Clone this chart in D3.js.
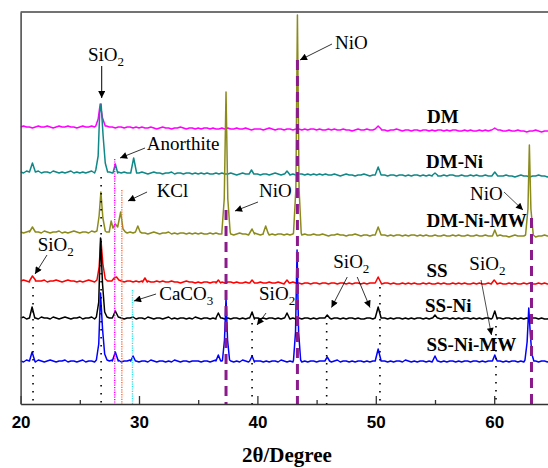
<!DOCTYPE html>
<html><head><meta charset="utf-8">
<script src="https://cdn.jsdelivr.net/npm/d3@7"></script>
<style>body{margin:0;background:#fff}svg{display:block}</style>
</head><body><div id="chart"></div>
<script>
// ---------- DATA ----------
const seriesNames = ["DM", "DM-Ni", "DM-Ni-MW", "SS", "SS-Ni", "SS-Ni-MW"];
const baseLevels = [273, 228, 168, 120, 83, 40];   // stacking offset (intensity units)
const gridStart = 20, gridStep = 0.25;           // 2θ sampling of background traces

const noiseDM = [
4,5,4,4,3,4,5,4,4,5,4,3,4,5,4,4,5,4,4,3,
4,5,4,4,5,4,3,4,4,5,4,4,3,4,4,3,4,4,3,4,
3,4,3,3,4,3,2,3,4,3,3,2,3,3,4,3,2,3,3,2,
3,2,3,3,2,3,2,2,3,2,3,2,2,3,2,2,3,2,1,2,
2,2,1,2,3,2,1,2,2,1,2,2,1,2,2,1,2,1,2,2,
1,2,1,1,2,1,2,1,1,2,1,1,0,1,2,1,1,2,1,1,
1,2,1,1,0,1,1,2,1,0,1,1,0,1,1,0,1,1,0,1,
0,1,1,0,1,0,1,1,0,0,1,0,1,0,0,1,0,1,0,1,
1,0,1,0,0,1,0,0,1,0,0,-1,0,0,1,0,-1,0,0,0,
0];
const noiseDMNi = [
4,3,5,4,3,4,5,3,4,4,3,5,4,3,4,3,4,5,3,4,
3,4,3,4,5,3,4,3,4,3,4,3,3,4,3,4,3,3,4,3,
3,4,3,2,3,4,3,3,2,3,3,4,2,3,3,2,3,3,2,3,
2,3,2,3,2,2,3,2,3,2,2,3,2,1,2,3,2,2,1,2,
2,1,2,2,1,2,3,2,1,2,2,1,2,1,2,2,1,2,1,2,
1,2,1,2,1,1,2,1,0,1,2,1,1,0,1,1,2,1,0,1,
1,0,1,1,0,1,1,0,1,1,0,1,0,1,1,0,1,0,1,0,
1,0,0,1,0,1,1,0,0,1,0,0,1,0,1,0,0,1,0,0,
0,1,0,0,1,0,0,-1,0,1,0,0,-1,0,0,1,0,0,-1,0,
0];
const noiseDMNiMW = [
4,3,4,5,3,4,4,3,5,4,3,4,4,5,3,4,3,4,5,4,
3,4,4,3,5,4,3,4,3,4,4,3,4,3,5,4,3,4,3,3,
4,3,3,2,3,4,3,2,3,3,4,2,3,2,3,3,2,3,2,3,
2,3,2,2,3,2,3,2,2,3,2,2,1,2,3,2,2,1,2,2,
2,1,2,2,1,2,1,2,2,1,2,1,2,2,1,1,2,1,1,2,
1,1,2,1,0,1,1,2,1,1,0,1,1,2,1,0,1,1,0,1,
1,0,1,1,0,1,0,1,1,0,1,0,1,1,0,1,0,1,0,0,
1,0,0,1,0,0,1,0,1,0,0,1,0,0,1,0,0,1,0,0,
0,0,1,0,0,-1,0,1,0,0,0,1,0,0,-1,0,0,1,0,0,
0];
const noiseSS = [
3,4,3,2,3,4,3,3,4,2,3,3,4,3,2,3,4,3,3,2,
3,2,3,4,3,2,3,3,2,3,3,4,3,2,3,2,3,3,2,3,
2,3,2,3,2,2,3,2,3,2,2,3,2,2,1,2,3,2,2,1,
2,1,2,2,1,2,2,1,2,1,2,2,1,2,1,1,2,1,2,1,
1,2,1,1,2,1,1,2,1,0,1,1,2,1,1,0,1,1,0,1,
1,0,1,1,0,1,1,0,1,1,0,1,0,1,1,0,1,0,1,1,
0,1,0,1,1,0,1,0,0,1,0,1,0,1,0,0,1,0,1,0,
0,1,0,1,0,0,1,0,1,0,1,0,0,1,0,1,0,0,1,0,
1,0,1,0,0,1,0,1,0,0,1,0,1,0,0,1,0,1,0,0,
1];
const noiseSSNi = [
3,4,2,3,4,3,2,4,3,3,2,4,3,2,3,4,3,2,3,3,
4,2,3,3,4,2,3,4,3,2,3,3,2,4,3,2,3,3,4,2,
3,3,2,4,3,2,3,3,2,3,4,2,3,2,3,3,2,3,2,4,
3,2,3,3,2,3,2,4,3,2,3,2,3,3,2,3,2,3,3,2,
3,2,3,2,3,3,2,3,2,3,3,2,3,2,3,2,3,3,2,3,
2,3,3,2,3,2,3,3,2,3,2,3,3,2,3,2,2,3,3,2,
3,2,3,3,2,3,2,3,3,2,3,2,3,2,3,3,2,3,2,3,
2,3,2,3,3,2,3,2,3,2,3,3,2,3,2,3,2,3,3,2,
3,2,3,2,3,3,2,3,2,3,2,3,2,3,3,2,3,2,2,3,
2];
const noiseSSNiMW = [
3,2,4,3,3,2,4,3,2,3,4,3,2,3,3,4,2,3,3,2,
3,4,2,3,3,2,4,3,3,2,3,4,2,3,2,3,3,4,2,3,
2,3,3,2,4,3,2,3,3,2,3,2,4,3,2,3,3,2,3,3,
3,2,3,3,2,3,4,2,3,2,3,3,2,3,2,4,3,2,3,2,
3,3,2,3,2,3,3,2,4,3,2,3,2,3,3,2,3,2,3,3,
2,3,3,2,3,2,3,4,2,3,3,2,3,2,3,3,2,3,2,3,
3,2,3,3,2,3,2,3,3,2,4,3,2,3,2,3,3,2,3,2,
3,3,2,3,2,3,3,2,3,2,3,3,2,3,3,2,3,2,3,3,
2,3,3,2,3,2,3,3,2,3,2,3,3,2,3,2,3,3,2,3,
3];

// diffraction peaks: [2θ, absolute intensity]
const peaksDM = [
 [[26.35,278],[26.55,285],[26.72,300],[26.92,286],[27.15,278]],
 [[49.95,275],[50.2,278],[50.45,275]],
 [[59.8,274],[60.05,276],[60.3,274]]
];
const peaksDMNi = [
 [[20.75,232],[21.0,241],[21.25,232]],
 [[26.35,234],[26.55,248],[26.68,292],[26.8,300],[26.97,268],[27.15,241],[27.35,232]],
 [[27.8,231],[28.0,240],[28.2,231]],
 [[29.3,231],[29.55,246],[29.8,231]],
 [[39.3,230],[39.5,234],[39.7,230]],
 [[42.3,230],[42.5,233],[42.7,230]],
 [[49.95,229],[50.2,237],[50.45,229]],
 [[54.8,229],[55.0,231],[55.2,229]],
 [[59.8,228],[60.05,232],[60.3,228]]
];
const peaksDMNiMW = [
 [[20.75,172],[21.0,177],[21.25,172]],
 [[26.45,173],[26.63,188],[26.78,212],[26.95,186],[27.15,173]],
 [[27.5,173],[27.65,183],[27.8,176],[28.0,180],[28.2,177],[28.45,192],[28.65,175],[28.85,172]],
 [[29.7,172],[29.9,178],[30.1,172]],
 [[37.0,172],[37.2,205],[37.35,312],[37.5,205],[37.7,172]],
 [[39.35,171],[39.55,175],[39.75,171]],
 [[40.5,171],[40.7,178],[40.9,171]],
 [[43.05,171],[43.25,215],[43.38,389],[43.52,215],[43.7,171]],
 [[49.95,169],[50.2,177],[50.45,169]],
 [[59.85,168],[60.05,174],[60.25,168]],
 [[62.65,169],[62.85,195],[62.97,259],[63.1,195],[63.3,169]]
];
const peaksSS = [
 [[20.75,123],[21.0,128],[21.25,123]],
 [[26.45,124],[26.63,137],[26.78,165],[26.95,140],[27.15,125],[27.35,123]],
 [[27.7,123],[27.9,126],[28.1,127],[28.3,124]],
 [[30.3,122],[30.5,126],[30.7,122]],
 [[36.5,121],[36.7,124],[36.9,121]],
 [[39.35,121],[39.55,124],[39.75,121]],
 [[42.3,121],[42.5,124],[42.7,121]],
 [[49.95,121],[50.2,127],[50.45,121]],
 [[59.8,121],[60.0,124],[60.2,121]]
];
const peaksSSNi = [
 [[20.75,86],[20.97,97],[21.2,86]],
 [[26.4,87],[26.6,102],[26.75,166],[26.92,120],[27.1,92],[27.3,87]],
 [[27.75,86],[28.0,93],[28.25,87]],
 [[36.5,86],[36.7,91],[36.9,86]],
 [[39.35,86],[39.55,92],[39.75,86]],
 [[42.3,86],[42.5,91],[42.7,86]],
 [[45.7,86],[45.9,89],[46.1,86]],
 [[49.95,86],[50.2,97],[50.45,86]],
 [[54.8,86],[55.0,89],[55.2,86]],
 [[59.85,86],[60.05,93],[60.25,86]]
];
const peaksSSNiMW = [
 [[20.75,43],[20.97,52],[21.2,43]],
 [[26.4,44],[26.6,60],[26.75,111],[26.92,75],[27.1,50],[27.3,44]],
 [[27.75,43],[28.0,52],[28.25,44]],
 [[29.3,43],[29.5,48],[29.7,43]],
 [[36.5,43],[36.7,49],[36.9,43]],
 [[37.05,44],[37.22,64],[37.35,106],[37.48,64],[37.65,44]],
 [[39.35,43],[39.55,48],[39.75,43]],
 [[43.05,44],[43.22,72],[43.35,154],[43.48,72],[43.65,44]],
 [[45.7,43],[45.9,47],[46.1,43]],
 [[49.95,43],[50.2,55],[50.45,43]],
 [[54.8,43],[55.0,48],[55.2,43]],
 [[59.85,43],[60.05,49],[60.25,43]],
 [[62.6,44],[62.78,62],[62.92,96],[63.05,70],[63.18,50],[63.35,43]]
];

const majorTicks = [20, 30, 40, 50, 60];
const minorTicks = [25, 35, 45, 55];

// reference lines: [2θ, top intensity]
const sio2Lines = [[21.05,117],[26.8,227],[39.55,81],[45.85,81],[50.35,117],[60.15,78]];
const anorthiteLine = [[27.95,245]];
const kclLine = [[28.55,214]];
const caco3Line = [[29.45,114]];
const nioLines = [[37.35,194],[43.38,344],[63.15,186]];

// ---------- STYLE ----------
const seriesColors = ["#ff00ff", "#108888", "#8b8b1c", "#ff0000", "#000000", "#0000ff"];

const W = 548, H = 468;
const svg = d3.select("#chart").append("svg").attr("width", W).attr("height", H);
const x = d3.scaleLinear().domain([20, 65]).range([20.6, 553.4]);
const y = d3.scaleLinear().domain([0, 392]).range([404, 12]);

const defs = svg.append("defs");
defs.append("clipPath").attr("id", "clip").append("rect")
  .attr("x", x(20)).attr("y", y(392)).attr("width", x(65) - x(20)).attr("height", y(0) - y(392));
defs.append("marker").attr("id", "arr").attr("viewBox", "0 0 10 10")
  .attr("refX", 10).attr("refY", 5).attr("markerWidth", 9).attr("markerHeight", 7)
  .attr("markerUnits", "userSpaceOnUse").attr("orient", "auto")
  .append("path").attr("d", "M0,0 L10,5 L0,10 z").attr("fill", "#000");

function buildSeries(noise, base, peaks) {
  const pts = [];
  noise.forEach((v, i) => {
    const t = gridStart + i * gridStep;
    if (peaks.some(p => t > p[0][0] && t < p[p.length - 1][0])) return;
    pts.push([t, base + v]);
  });
  peaks.forEach(p => p.forEach(q => pts.push(q)));
  pts.sort((a, b) => a[0] - b[0]);
  return pts;
}
const allNoise = [noiseDM, noiseDMNi, noiseDMNiMW, noiseSS, noiseSSNi, noiseSSNiMW];
const allPeaks = [peaksDM, peaksDMNi, peaksDMNiMW, peaksSS, peaksSSNi, peaksSSNiMW];
const series = seriesNames.map((n, i) => ({ name: n, color: seriesColors[i], pts: buildSeries(allNoise[i], baseLevels[i], allPeaks[i]) }));

const line = d3.line().x(d => x(d[0])).y(d => y(d[1]));
const plot = svg.append("g").attr("clip-path", "url(#clip)");
plot.selectAll("path.trace").data(series).join("path").attr("class", "trace")
  .attr("d", d => line(d.pts)).attr("fill", "none")
  .attr("stroke", d => d.color).attr("stroke-width", 1.5).attr("stroke-linejoin", "round");

// reference lines
function vlines(data, color, width, dash) {
  plot.append("g").selectAll("line").data(data).join("line")
    .attr("x1", d => x(d[0])).attr("x2", d => x(d[0]))
    .attr("y1", d => y(d[1])).attr("y2", y(0))
    .attr("stroke", color).attr("stroke-width", width).attr("stroke-dasharray", dash);
}
vlines(sio2Lines, "#000", 1.6, "1.6,6.4");
vlines(anorthiteLine, "#ff00ff", 1.4, "1.2,1.2");
vlines(kclLine, "#ff6a3d", 1.4, "1.2,1.2");
vlines(caco3Line, "#30e0e8", 1.4, "1.2,1.2");
vlines(nioLines, "#8b1a8b", 3, "10,6");

// axes
const xAxis = svg.append("g").attr("transform", `translate(0,${y(0)})`)
  .call(d3.axisBottom(x).tickValues(majorTicks).tickFormat(d3.format("d"))
    .tickSize(-8).tickSizeOuter(0).tickPadding(12));
xAxis.select(".domain").attr("stroke", "#333").attr("stroke-width", 1.5);
xAxis.selectAll(".tick line").attr("stroke", "#333").attr("stroke-width", 1.3);
xAxis.selectAll(".tick text").attr("font-family", "'Liberation Sans', Arial, sans-serif")
  .attr("font-weight", "bold").attr("font-size", 17).attr("fill", "#000");
const xMinor = svg.append("g").attr("transform", `translate(0,${y(0)})`)
  .call(d3.axisBottom(x).tickValues(minorTicks).tickFormat("").tickSize(-4).tickSizeOuter(0));
xMinor.select(".domain").remove();
xMinor.selectAll(".tick line").attr("stroke", "#333").attr("stroke-width", 1.3);

const yAxis = svg.append("g").attr("transform", `translate(${x(20)},0)`)
  .call(d3.axisLeft(y).tickValues([]).tickSizeOuter(0));
yAxis.select(".domain").attr("stroke", "#444").attr("stroke-width", 1.5);
svg.append("line").attr("x1", x(20)).attr("x2", x(65)).attr("y1", y(392)).attr("y2", y(392))
  .attr("stroke", "#444").attr("stroke-width", 1.5);

svg.append("text").attr("x", 287).attr("y", 462).attr("text-anchor", "middle")
  .attr("font-family", "'Liberation Serif', 'Times New Roman', serif").attr("font-weight", "bold")
  .attr("font-size", 21).text("2θ/Degree");

// series labels
const labelPos = [[54.32,281],[54.24,236],[54.28,177],[54.28,127],[54.16,92],[54.28,53]];
svg.append("g").selectAll("text").data(seriesNames).join("text")
  .attr("x", (d, i) => x(labelPos[i][0])).attr("y", (d, i) => y(labelPos[i][1]))
  .attr("font-family", "'Liberation Serif', 'Times New Roman', serif")
  .attr("font-weight", "bold").attr("font-size", 19).text(d => d);

// annotations: text, subscript, text pos, arrows
const annotations = [
  { t: "SiO", sub: "2", at: [25.69, 343], arrows: [[[26.85, 338], [26.85, 306]]], w: 1 },
  { t: "NiO", sub: "", at: [46.55, 355], arrows: [[[46.30, 360], [43.60, 344]]], w: 0.8 },
  { t: "Anorthite", sub: "", at: [30.65, 254], arrows: [[[30.51, 256], [28.40, 246]]], w: 0.8 },
  { t: "KCl", sub: "", at: [31.49, 207], arrows: [[[30.68, 212], [29.07, 203]]], w: 0.8 },
  { t: "NiO", sub: "", at: [40.14, 207], arrows: [[[40.05, 202], [38.11, 193]]], w: 0.8 },
  { t: "NiO", sub: "", at: [57.96, 204], arrows: [[[60.83, 212], [62.43, 194]]], w: 0.7 },
  { t: "SiO", sub: "2", at: [21.44, 153], arrows: [[[22.23, 149], [21.22, 130]]], w: 0.8 },
  { t: "CaCO", sub: "3", at: [31.71, 104], arrows: [[[31.44, 110], [29.58, 103]]], w: 0.8 },
  { t: "SiO", sub: "2", at: [40.14, 104], arrows: [[[40.73, 91], [39.97, 79]]], w: 0.8 },
  { t: "SiO", sub: "2", at: [46.41, 136], arrows: [[[47.59, 127], [46.26, 96.5]], [[48.43, 127], [49.51, 96.5]]], w: 0.8 },
  { t: "SiO", sub: "2", at: [57.90, 134], arrows: [[[58.89, 124], [59.77, 69]]], w: 0.7 }
];
const ag = svg.append("g");
annotations.forEach(a => {
  const tx = ag.append("text").attr("x", x(a.at[0])).attr("y", y(a.at[1]))
    .attr("font-family", "'Liberation Serif', 'Times New Roman', serif").attr("font-size", 19);
  tx.append("tspan").text(a.t);
  if (a.sub) tx.append("tspan").attr("font-size", 13).attr("dy", 5).text(a.sub);
  a.arrows.forEach(ar => {
    ag.append("line").attr("x1", x(ar[0][0])).attr("y1", y(ar[0][1]))
      .attr("x2", x(ar[1][0])).attr("y2", y(ar[1][1]))
      .attr("stroke", "#000").attr("stroke-width", a.w).attr("marker-end", "url(#arr)");
  });
});
</script>
</body></html>
